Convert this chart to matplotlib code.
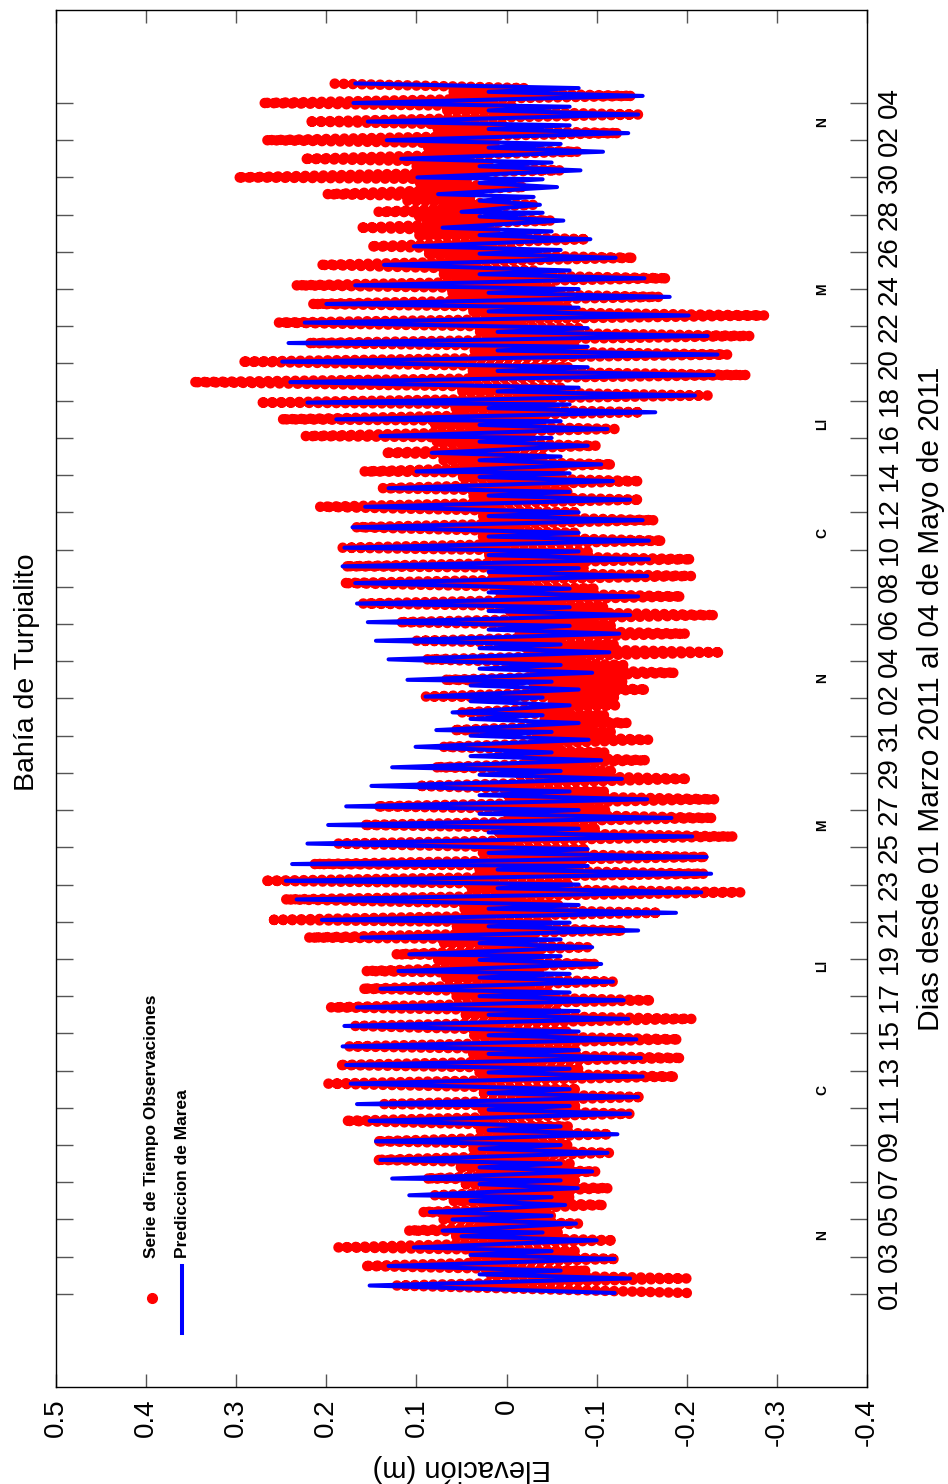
import matplotlib
matplotlib.use("Agg")
import matplotlib.pyplot as plt

plt.rcParams['font.family'] = ['Liberation Sans', 'DejaVu Sans']
plt.rcParams['axes.unicode_minus'] = False

# ---------------- data (days since 01 Mar 2011, elevation in m) ----------------
# time of the higher high water of each tidal day
cycle_t = [0.45, 1.5, 2.5, 3.4, 4.4, 5.3, 6.2, 7.2, 8.2, 9.3, 10.2, 11.3, 12.3, 13.3,
           14.4, 15.4, 16.4, 17.35, 18.25, 19.15, 20.1, 21.2, 22.2, 23.1, 24.2, 25.2,
           26.2, 27.3, 28.3, 29.4, 30.3, 31.25, 32.1, 33.0, 34.1, 35.1, 36.1, 37.1,
           38.2, 39.1, 40.1, 41.2, 42.3, 43.3, 44.2, 45.2, 46.1, 47.0, 47.9, 49.0,
           50.1, 51.1, 52.2, 53.2, 54.2, 55.3, 56.3, 57.3, 58.15, 59.1, 60.0, 61.0,
           62.0, 63.0, 64.0]
# time offsets (days) of the four extremes inside a tidal day: HH, LL, LH, HL
phase = [0.0, 0.38, 0.60, 0.80]

# Prediction (Prediccion de Marea)
pred_hh = [0.152, 0.131, 0.103, 0.071, 0.085, 0.108, 0.127, 0.140, 0.145, 0.152, 0.166,
           0.173, 0.178, 0.182, 0.180, 0.166, 0.140, 0.120, 0.108, 0.161, 0.205, 0.233,
           0.245, 0.238, 0.221, 0.198, 0.178, 0.150, 0.127, 0.101, 0.078, 0.060, 0.090,
           0.110, 0.131, 0.145, 0.154, 0.166, 0.168, 0.182, 0.180, 0.171, 0.157, 0.131,
           0.100, 0.083, 0.140, 0.189, 0.221, 0.240, 0.249, 0.242, 0.224, 0.200, 0.168,
           0.136, 0.103, 0.071, 0.050, 0.076, 0.099, 0.117, 0.133, 0.154, 0.170]
pred_ll = [-0.137, -0.120, -0.100, -0.077, -0.065, -0.079, -0.095, -0.112, -0.123, -0.137,
           -0.146, -0.151, -0.149, -0.144, -0.135, -0.130, -0.118, -0.105, -0.095, -0.146,
           -0.188, -0.216, -0.227, -0.222, -0.206, -0.183, -0.156, -0.128, -0.105, -0.091,
           -0.080, -0.070, -0.080, -0.095, -0.114, -0.125, -0.137, -0.146, -0.156, -0.158,
           -0.158, -0.151, -0.137, -0.118, -0.105, -0.090, -0.112, -0.165, -0.209, -0.230,
           -0.234, -0.223, -0.202, -0.181, -0.153, -0.121, -0.093, -0.063, -0.037, -0.056,
           -0.082, -0.107, -0.135, -0.146, -0.151]
pred_lh = [0.03, 0.04, 0.05, 0.06, 0.04, 0.03, 0.03, 0.03, 0.02, 0.02, 0.02, 0.02, 0.02,
           0.02, 0.02, 0.03, 0.03, 0.03, 0.03, 0.02, 0.02, 0.01, 0.01, 0.02, 0.02, 0.03,
           0.03, 0.03, 0.04, 0.04, 0.04, 0.04, 0.04, 0.03, 0.03, 0.02, 0.02, 0.02, 0.02,
           0.02, 0.02, 0.02, 0.02, 0.03, 0.03, 0.03, 0.03, 0.02, 0.01, 0.01, 0.01, 0.01,
           0.02, 0.02, 0.03, 0.03, 0.03, 0.03, 0.03, 0.03, 0.03, 0.02, 0.02, 0.02, 0.02]
pred_hl = [-0.06, -0.05, -0.04, -0.05, -0.05, -0.06, -0.06, -0.06, -0.06, -0.07, -0.07,
           -0.07, -0.08, -0.08, -0.08, -0.07, -0.07, -0.06, -0.06, -0.07, -0.08, -0.08,
           -0.09, -0.09, -0.08, -0.08, -0.07, -0.06, -0.05, -0.05, -0.04, -0.04, -0.05,
           -0.06, -0.06, -0.07, -0.07, -0.07, -0.08, -0.08, -0.08, -0.08, -0.07, -0.07,
           -0.06, -0.05, -0.06, -0.07, -0.08, -0.09, -0.09, -0.09, -0.08, -0.08, -0.07,
           -0.06, -0.05, -0.04, -0.03, -0.04, -0.05, -0.06, -0.07, -0.07, -0.08]

# Observations (Serie de Tiempo Observaciones)
obs_hh = [0.122, 0.159, 0.187, 0.110, 0.094, 0.080, 0.090, 0.145, 0.145, 0.180, 0.136,
          0.198, 0.187, 0.175, 0.168, 0.196, 0.161, 0.157, 0.124, 0.221, 0.263, 0.247,
          0.270, 0.215, 0.187, 0.160, 0.145, 0.099, 0.080, 0.071, 0.060, 0.050, 0.090,
          0.070, 0.090, 0.100, 0.120, 0.160, 0.182, 0.180, 0.182, 0.168, 0.208, 0.138,
          0.159, 0.136, 0.224, 0.251, 0.275, 0.349, 0.295, 0.221, 0.254, 0.217, 0.235,
          0.208, 0.152, 0.164, 0.143, 0.200, 0.300, 0.226, 0.268, 0.221, 0.272]
obs_ll = [-0.200, -0.123, -0.120, -0.080, -0.109, -0.114, -0.100, -0.114, -0.115, -0.137,
          -0.151, -0.188, -0.195, -0.192, -0.206, -0.162, -0.118, -0.100, -0.090, -0.130,
          -0.170, -0.260, -0.220, -0.222, -0.253, -0.230, -0.232, -0.202, -0.156, -0.158,
          -0.135, -0.121, -0.156, -0.188, -0.239, -0.200, -0.232, -0.195, -0.206, -0.206,
          -0.174, -0.165, -0.149, -0.149, -0.118, -0.100, -0.120, -0.150, -0.223, -0.267,
          -0.246, -0.271, -0.287, -0.170, -0.179, -0.142, -0.090, -0.050, -0.030, -0.020,
          -0.060, -0.080, -0.125, -0.146, -0.140]
obs_lh = [0.02, 0.04, 0.06, 0.07, 0.06, 0.05, 0.055, 0.04, 0.03, 0.03, 0.03, 0.03, 0.04,
          0.04, 0.05, 0.06, 0.07, 0.08, 0.07, 0.06, 0.05, 0.04, 0.03, 0.03, 0.01, 0.00,
          0.00, -0.01, -0.02, -0.03, -0.04, -0.05, -0.03, -0.03, -0.02, -0.01, 0.00, 0.01,
          0.02, 0.02, 0.03, 0.03, 0.04, 0.05, 0.07, 0.08, 0.08, 0.06, 0.05, 0.04, 0.04,
          0.03, 0.04, 0.06, 0.07, 0.09, 0.10, 0.10, 0.11, 0.10, 0.10, 0.09, 0.08, 0.07, 0.06]
obs_hl = [-0.09, -0.08, -0.06, -0.05, -0.07, -0.08, -0.07, -0.07, -0.07, -0.08, -0.08,
          -0.08, -0.08, -0.07, -0.06, -0.05, -0.04, -0.04, -0.03, -0.05, -0.06, -0.07,
          -0.08, -0.09, -0.10, -0.11, -0.11, -0.12, -0.11, -0.12, -0.11, -0.12, -0.13,
          -0.13, -0.12, -0.12, -0.11, -0.10, -0.09, -0.09, -0.08, -0.08, -0.07, -0.06,
          -0.04, -0.03, -0.04, -0.05, -0.06, -0.07, -0.08, -0.08, -0.07, -0.05, -0.03,
          -0.01, 0.01, 0.03, 0.04, 0.04, 0.02, 0.01, 0.00, -0.01, -0.02]

# first and last samples of the record
start_t, start_pred, start_obs = 0.05, -0.12, -0.20
end_t, end_pred, end_obs = 65.05, 0.168, 0.200

# axis ticks and labels
day_ticks = list(range(0, 65, 2))
day_labels = ['01', '03', '05', '07', '09', '11', '13', '15', '17', '19', '21', '23',
              '25', '27', '29', '31', '02', '04', '06', '08', '10', '12', '14', '16',
              '18', '20', '22', '24', '26', '28', '30', '02', '04']
elev_ticks = [0.5, 0.4, 0.3, 0.2, 0.1, 0.0, -0.1, -0.2, -0.3, -0.4]
elev_labels = ['0.5', '0.4', '0.3', '0.2', '0.1', '0', '-0.1', '-0.2', '-0.3', '-0.4']

# moon phases (label, day)
moon_labels = ['N', 'C', 'Ll', 'M', 'N', 'C', 'Ll', 'M', 'N']
moon_days = [3.15, 10.95, 17.65, 25.2, 33.1, 40.9, 46.75, 54.0, 63.0]

# ---------------- build the series ----------------
t_all = [start_t]
p_all = [start_pred]
o_all = [start_obs]
for k in range(len(cycle_t)):
    pv = (pred_hh[k], pred_ll[k], pred_lh[k], pred_hl[k])
    ov = (obs_hh[k], obs_ll[k], obs_lh[k], obs_hl[k])
    for j in range(4):
        t_all.append(cycle_t[k] + phase[j])
        p_all.append(pv[j])
        o_all.append(ov[j])
t_all.append(end_t)
p_all.append(end_pred)
o_all.append(end_obs)

# ---------------- figure ----------------
fig = plt.figure(figsize=(9.48, 14.84), dpi=100)
ax = fig.add_axes([0.0591, 0.0654, 0.8555, 0.9279])

ax.plot(o_all, t_all, color='#ff0000', lw=7.6, linestyle=(0, (0.01, 0.85)),
        dash_capstyle='round', dash_joinstyle='round', zorder=2)
ax.plot(p_all, t_all, color='#0000ff', lw=2.9, solid_capstyle='round',
        solid_joinstyle='round', zorder=3)

ax.set_xlim(0.5, -0.4)
ax.set_ylim(-5, 69)

ax.set_xticks(elev_ticks)
ax.set_xticklabels(elev_labels, rotation=90, fontsize=20)
ax.set_yticks(day_ticks)
ax.set_yticklabels(day_labels, rotation=90, fontsize=20, va='center')

ax.tick_params(axis='y', direction='in', length=12, width=1, color='#555555',
               left=True, right=True, labelleft=False, labelright=True, pad=7)
ax.tick_params(axis='x', direction='in', length=9.5, width=1, color='#555555',
               top=True, bottom=True, pad=8)
for s in ax.spines.values():
    s.set_linewidth(1.0)

ax.yaxis.set_label_position('right')
ax.set_ylabel('Dias desde 01 Marzo 2011 al 04 de Mayo de 2011', fontsize=21.5,
              rotation=90, labelpad=10)
ax.set_xlabel('Elevación (m)', fontsize=21, rotation=180, labelpad=6)

fig.text(0.028, 0.547, 'Bahía de Turpialito', rotation=90, fontsize=20.5,
         ha='center', va='center')

for lab, d in zip(moon_labels, moon_days):
    ax.text(-0.35, d, lab, rotation=90, fontsize=10, fontweight='bold',
            ha='center', va='center')

# legend (rotated, no frame)
ax.plot([0.393], [-0.2], 'o', color='#ff0000', ms=7, zorder=4)
ax.plot([0.36, 0.36], [-2.1, 1.5], color='#0000ff', lw=2.9, zorder=4)
ax.text(0.394, 1.95, 'Serie de Tiempo Observaciones', rotation=90, fontsize=12.5,
        fontweight='bold', ha='center', va='bottom')
ax.text(0.36, 1.95, 'Prediccion de Marea', rotation=90, fontsize=12.5,
        fontweight='bold', ha='center', va='bottom')

fig.savefig('out.png', dpi=100)
